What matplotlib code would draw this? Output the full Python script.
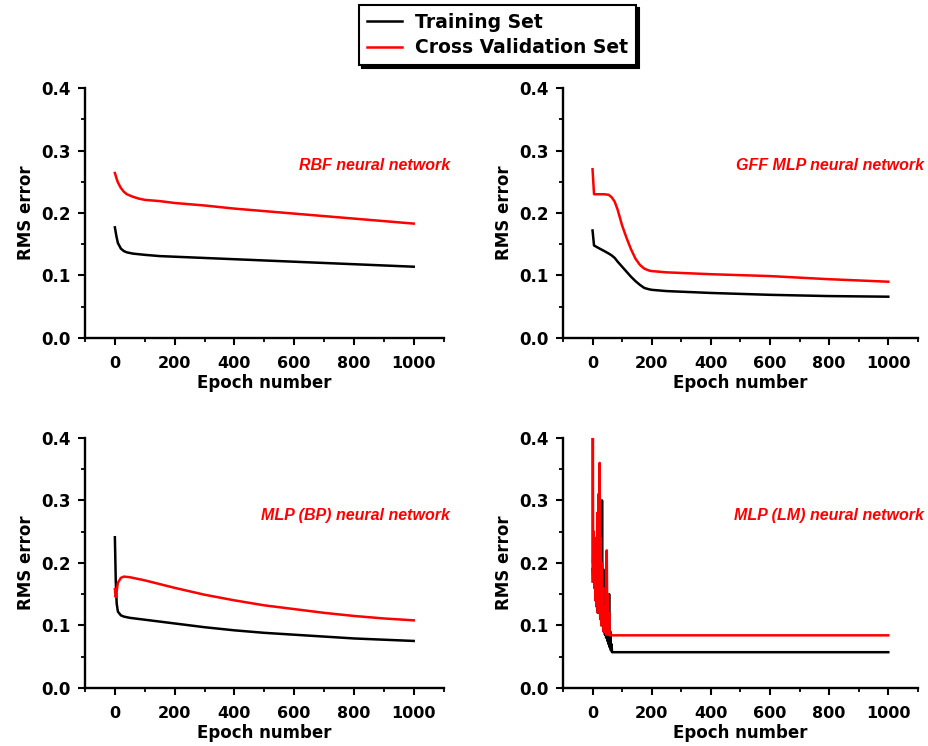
import matplotlib
matplotlib.use("Agg")
import matplotlib.pyplot as plt
from matplotlib.ticker import MultipleLocator, FormatStrFormatter

plt.rcParams['font.family'] = ['DejaVu Sans']

# RBF network
rbf_ep = [0, 5, 10, 20, 30, 40, 60, 80, 100, 150, 200, 300, 400, 500, 600, 700, 800, 900, 1000]
rbf_train = [0.177, 0.163, 0.152, 0.143, 0.139, 0.137, 0.135, 0.134, 0.133, 0.131, 0.130, 0.128, 0.126, 0.124, 0.122, 0.120, 0.118, 0.116, 0.114]
rbf_cv = [0.264, 0.256, 0.249, 0.240, 0.234, 0.230, 0.226, 0.223, 0.221, 0.219, 0.216, 0.212, 0.207, 0.203, 0.199, 0.195, 0.191, 0.187, 0.183]

# GFF MLP network
gff_ep = [0, 5, 20, 40, 55, 65, 75, 85, 100, 115, 130, 145, 160, 175, 190, 200, 250, 300, 400, 600, 800, 1000]
gff_train = [0.172, 0.148, 0.144, 0.139, 0.135, 0.132, 0.128, 0.122, 0.114, 0.106, 0.098, 0.091, 0.085, 0.080, 0.078, 0.077, 0.075, 0.074, 0.072, 0.069, 0.067, 0.066]
gff_cv = [0.270, 0.230, 0.230, 0.230, 0.229, 0.225, 0.218, 0.205, 0.180, 0.160, 0.142, 0.127, 0.117, 0.111, 0.108, 0.107, 0.105, 0.104, 0.102, 0.099, 0.094, 0.090]

# MLP (BP) network
bp_ep = [0, 3, 6, 10, 20, 30, 50, 100, 200, 300, 400, 500, 600, 700, 800, 900, 1000]
bp_train = [0.241, 0.170, 0.135, 0.122, 0.116, 0.114, 0.112, 0.109, 0.103, 0.097, 0.092, 0.088, 0.085, 0.082, 0.079, 0.077, 0.075]
bp_cv = [0.158, 0.145, 0.155, 0.168, 0.176, 0.178, 0.177, 0.172, 0.160, 0.149, 0.140, 0.132, 0.126, 0.120, 0.115, 0.111, 0.108]

# MLP (LM) network
lm_ep_train = [0, 2, 4, 6, 8, 10, 12, 14, 16, 18, 20, 22, 24, 26, 28, 30, 32, 34, 36, 38, 40,
               42, 44, 46, 48, 50, 52, 54, 56, 58, 60, 62, 64, 66, 1000]
lm_train = [0.19, 0.17, 0.21, 0.16, 0.19, 0.14, 0.22, 0.13, 0.18, 0.12, 0.24, 0.12, 0.17, 0.11, 0.22,
            0.10, 0.30, 0.10, 0.19, 0.09, 0.14, 0.085, 0.12, 0.08, 0.11, 0.075, 0.10, 0.07, 0.15,
            0.065, 0.09, 0.06, 0.07, 0.057, 0.057]
lm_ep_cv = [0, 1, 2, 4, 6, 8, 10, 12, 14, 16, 18, 20, 22, 24, 26, 28, 30, 32, 34, 36, 38, 40,
            42, 44, 46, 48, 50, 52, 54, 56, 58, 60, 1000]
lm_cv = [0.17, 0.40, 0.20, 0.25, 0.16, 0.24, 0.14, 0.21, 0.13, 0.28, 0.12, 0.31, 0.13, 0.36, 0.11,
         0.24, 0.10, 0.20, 0.10, 0.16, 0.09, 0.13, 0.09, 0.12, 0.085, 0.22, 0.09, 0.15, 0.085,
         0.12, 0.084, 0.084, 0.084]

panels = [
    (rbf_ep, rbf_train, rbf_ep, rbf_cv, "RBF neural network"),
    (gff_ep, gff_train, gff_ep, gff_cv, "GFF MLP neural network"),
    (bp_ep, bp_train, bp_ep, bp_cv, "MLP (BP) neural network"),
    (lm_ep_train, lm_train, lm_ep_cv, lm_cv, "MLP (LM) neural network"),
]

# axes boxes in figure fractions [left, bottom, width, height]
boxes = [
    [0.0915, 0.547, 0.386, 0.335],
    [0.606, 0.547, 0.382, 0.335],
    [0.0915, 0.078, 0.386, 0.335],
    [0.606, 0.078, 0.382, 0.335],
]

fig = plt.figure(figsize=(9.29, 7.46), dpi=100)

for (ex_t, tr, ex_c, cv, name), box in zip(panels, boxes):
    ax = fig.add_axes(box)
    lt, = ax.plot(ex_t, tr, color="black", lw=1.8, label="Training Set")
    lc, = ax.plot(ex_c, cv, color="red", lw=1.8, label="Cross Validation Set")
    ax.set_xlim(-100, 1100)
    ax.set_ylim(0, 0.4)
    ax.xaxis.set_minor_locator(MultipleLocator(100))
    ax.yaxis.set_major_locator(MultipleLocator(0.1))
    ax.yaxis.set_minor_locator(MultipleLocator(0.05))
    ax.set_xticks([0, 200, 400, 600, 800, 1000])
    ax.yaxis.set_major_formatter(FormatStrFormatter('%.1f'))
    for s in ["top", "right"]:
        ax.spines[s].set_visible(False)
    for s in ["left", "bottom"]:
        ax.spines[s].set_linewidth(1.7)
    ax.tick_params(which="major", direction="out", length=5, width=1.5, labelsize=11.5)
    ax.tick_params(axis="x", which="major", pad=8)
    ax.tick_params(axis="y", which="major", pad=5, labelsize=12)
    ax.tick_params(which="minor", direction="out", length=3, width=1.3)
    for lab in ax.get_xticklabels() + ax.get_yticklabels():
        lab.set_fontweight("bold")
    ax.set_xlabel("Epoch number", fontsize=12, fontweight="bold", labelpad=2.5)
    ax.set_ylabel("RMS error", fontsize=12, fontweight="bold", labelpad=5)
    ax.text(1.017, 0.69, name, transform=ax.transAxes, ha="right", va="center",
            color="red", fontsize=11.5, fontweight="bold", fontstyle="italic",
            family=["Liberation Sans", "DejaVu Sans"])

leg = fig.legend(handles=[lt, lc], loc="upper center", bbox_to_anchor=(0.5355, 0.993),
                 borderaxespad=0, frameon=True, fancybox=False,
                 shadow={"color": "black", "alpha": 1.0},
                 edgecolor="black", framealpha=1.0,
                 prop={"size": 13.5, "weight": "bold"}, handlelength=1.9, handletextpad=0.7,
                 borderpad=0.4, labelspacing=0.35)
leg.get_frame().set_linewidth(1.5)

fig.savefig("out.png", dpi=100)
